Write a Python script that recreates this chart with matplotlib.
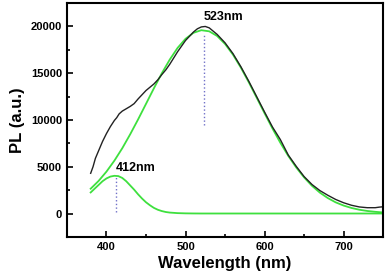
import matplotlib
matplotlib.use("Agg")
import matplotlib.pyplot as plt
from matplotlib.ticker import MultipleLocator

# measured PL spectrum (black)
wl_meas = [380, 383, 386, 390, 395, 400, 405, 410, 413, 416, 420, 425, 430, 435,
           440, 445, 450, 455, 460, 465, 470, 475, 480, 490, 500, 510, 515, 520,
           525, 530, 540, 550, 560, 570, 580, 590, 600, 610, 620, 630, 640, 650,
           660, 670, 680, 690, 700, 710, 720, 730, 740, 745, 750]
pl_meas = [4300, 5000, 5900, 6700, 7700, 8550, 9300, 9950, 10250, 10650, 10950,
           11200, 11450, 11750, 12250, 12700, 13150, 13500, 13850, 14300, 14850,
           15350, 15950, 17300, 18500, 19400, 19750, 19950, 20000, 19850, 19150,
           18250, 17100, 15700, 14150, 12500, 10850, 9250, 7900, 6250, 5050, 3950,
           3100, 2450, 1950, 1500, 1150, 880, 700, 620, 620, 680, 720]

# fitted component at 523 nm (green)
wl_fit1 = [380, 390, 400, 410, 420, 430, 440, 450, 460, 470, 480, 490, 500, 510,
           520, 530, 540, 550, 560, 570, 580, 590, 600, 610, 620, 630, 640, 650,
           660, 670, 680, 690, 700, 710, 720, 730, 740, 750]
pl_fit1 = [2650, 3480, 4480, 5650, 6980, 8470, 10060, 11720, 13390, 14990, 16450,
           17710, 18680, 19320, 19600, 19480, 18980, 18130, 16990, 15600, 14040,
           12390, 10720, 9090, 7560, 6160, 4930, 3860, 2960, 2230, 1650, 1190, 850,
           590, 400, 270, 180, 110]

# fitted component at 412 nm (green)
wl_fit2 = [380, 385, 390, 395, 400, 405, 410, 415, 420, 425, 430, 435, 440, 445,
           450, 455, 460, 465, 470, 475, 480, 490, 500, 510, 520, 600, 700, 750]
pl_fit2 = [2250, 2650, 3050, 3450, 3750, 3950, 4030, 4000, 3800, 3450, 3000, 2550,
           2050, 1600, 1200, 880, 600, 400, 260, 160, 100, 40, 15, 5, 0, 0, 0, 0]

peaks = [523, 412]
peak_heights = [20000, 4000]
peak_labels = ["523nm", "412nm"]

plt.rcParams["font.family"] = ["Liberation Sans", "DejaVu Sans"]
plt.rcParams["font.weight"] = "bold"

fig = plt.figure(figsize=(3.87, 2.80), dpi=100)
ax = fig.add_axes([0.173, 0.154, 0.817, 0.835])

green = "#3ee03e"
ax.plot(wl_fit2, pl_fit2, color=green, lw=1.3)
ax.plot(wl_fit1, pl_fit1, color=green, lw=1.3)
ax.plot(wl_meas, pl_meas, color="#222222", lw=1.0)

# peak markers
ax.plot([peaks[0], peaks[0]], [9500, 19300], ls=":", color="#7070c8", lw=1.0)
ax.plot([peaks[1], peaks[1]], [150, 3950], ls=":", color="#7070c8", lw=1.0)
ax.text(peaks[0], 21000, peak_labels[0], ha="left", va="center", fontsize=9,
        fontweight="bold")
ax.text(peaks[1], 4900, peak_labels[1], ha="left", va="center", fontsize=9,
        fontweight="bold")

ax.set_xlim(350, 750)
ax.set_ylim(-2500, 22500)
ax.xaxis.set_major_locator(MultipleLocator(100))
ax.xaxis.set_minor_locator(MultipleLocator(50))
ax.yaxis.set_major_locator(MultipleLocator(5000))
ax.yaxis.set_minor_locator(MultipleLocator(2500))
ax.tick_params(which="both", direction="in", width=1.2, labelsize=8)
ax.tick_params(which="major", length=4)
ax.tick_params(which="minor", length=2.5)
for s in ax.spines.values():
    s.set_linewidth(1.5)

ax.set_xlabel("Wavelength (nm)", fontsize=12, fontweight="bold", labelpad=3)
ax.set_ylabel("PL (a.u.)", fontsize=12, fontweight="bold", labelpad=4)

fig.savefig("out.png", dpi=100)
